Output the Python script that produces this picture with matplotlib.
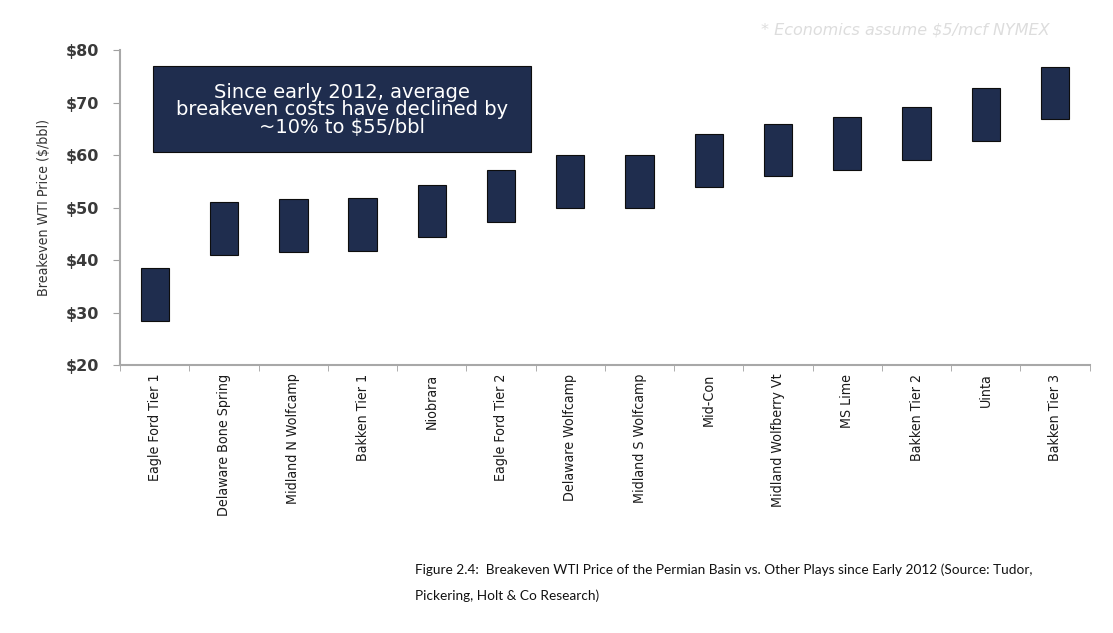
import matplotlib
matplotlib.use("Agg")
import matplotlib.pyplot as plt
from matplotlib.patches import Rectangle
from matplotlib import font_manager as fm

plays = ["Eagle Ford Tier 1", "Delaware Bone Spring", "Midland N Wolfcamp", "Bakken Tier 1",
         "Niobrara", "Eagle Ford Tier 2", "Delaware Wolfcamp", "Midland S Wolfcamp",
         "Mid-Con", "Midland Wolfberry Vt", "MS Lime", "Bakken Tier 2", "Uinta", "Bakken Tier 3"]
low = [28.5, 41.0, 41.6, 41.8, 44.4, 47.3, 50.0, 50.0, 54.0, 56.0, 57.2, 59.1, 62.7, 66.8]
high = [38.6, 51.1, 51.6, 51.8, 54.4, 57.2, 60.0, 60.0, 64.0, 66.0, 67.2, 69.1, 72.7, 76.8]
yticks = [20, 30, 40, 50, 60, 70, 80]

fp = fm.FontProperties(family="DejaVu Sans", stretch="condensed")
path = fm.findfont(fp)
has_cond = "Condensed" in path
if has_cond:
    lab_kw = dict(family="DejaVu Sans", fontstretch="condensed", fontsize=10.2)
else:
    lab_kw = dict(family="Roboto", fontsize=9.2)

fig = plt.figure(figsize=(11.13, 6.33), dpi=100)
ax = fig.add_axes([0.108, 0.423, 0.871, 0.498])

x = list(range(len(plays)))
heights = [h - l for h, l in zip(high, low)]
ax.bar(x, heights, bottom=low, width=0.41, color="#1f2d4e", edgecolor="#0d0d0d", linewidth=0.8, zorder=3)

ax.set_xlim(-0.5, len(plays) - 0.5)
ax.set_ylim(20, 80)
ax.set_yticks(yticks)
ax.set_yticklabels([f"${v}" for v in yticks], fontsize=11.5, fontweight="bold", color="#3a3a3a")
ax.set_xticks(x)
ax.set_xticklabels(plays, rotation=90, color="#1a1a1a", va="top", **lab_kw)
ax.set_xticks([i - 0.5 for i in range(len(plays) + 1)], minor=True)
ax.tick_params(axis="x", which="major", length=0, pad=6)
ax.tick_params(axis="x", which="minor", length=4, color="#a0a0a0", direction="out")
ax.tick_params(axis="y", length=5, color="#a0a0a0", direction="out", pad=10)

for s in ["top", "right"]:
    ax.spines[s].set_visible(False)
for s in ["left", "bottom"]:
    ax.spines[s].set_color("#a8a8a8")
    ax.spines[s].set_linewidth(1.5)

ax.set_ylabel("Breakeven WTI Price ($/bbl)", color="#333333", labelpad=11, **lab_kw)

# annotation box
ax.add_patch(Rectangle((0.034, 0.676), 0.39, 0.273, transform=ax.transAxes,
                       facecolor="#1f2d4e", edgecolor="#0d0d0d", linewidth=0.8, zorder=4))
ax.text(0.229, 0.81, "Since early 2012, average\nbreakeven costs have declined by\n~10% to $55/bbl",
        transform=ax.transAxes, ha="center", va="center", color="white", fontsize=14,
        linespacing=0.9, zorder=5, family="DejaVu Sans")

fig.text(0.813, 0.952, "* Economics assume $5/mcf NYMEX", ha="center", va="center",
         fontsize=11.5, style="italic", color="#dddddd")

fig.text(0.373, 0.0798, "Figure 2.4:  Breakeven WTI Price of the Permian Basin vs. Other Plays since Early 2012 (Source: Tudor,\nPickering, Holt & Co Research)",
         ha="left", va="center", fontsize=9.8, family="Lato", color="#111111", linespacing=2.3)

fig.savefig("out.png", dpi=100)
